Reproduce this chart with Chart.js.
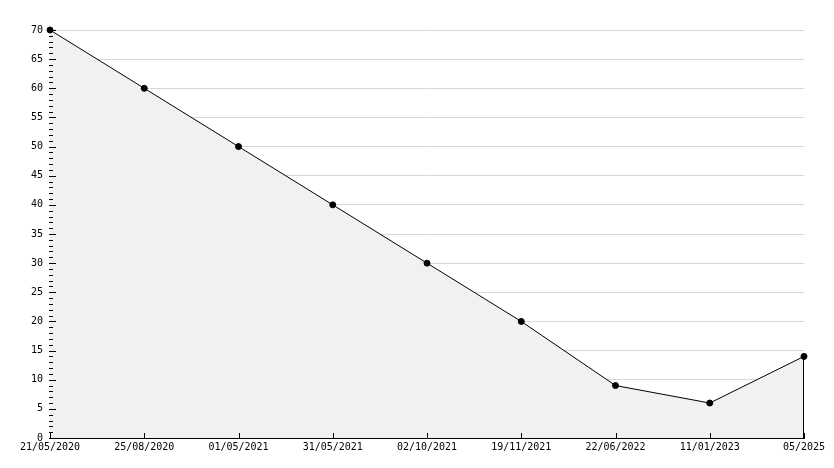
<!DOCTYPE html>
<html>
<head>
<meta charset="utf-8">
<script src="https://cdn.jsdelivr.net/npm/chart.js@4/dist/chart.umd.min.js"></script>
<style>
  html, body { margin: 0; padding: 0; background: #fff; }
  #wrap { width: 834px; height: 468px; position: relative; }
</style>
</head>
<body>
<div id="wrap"><canvas id="chart"></canvas></div>
<script>
const dates = ["21/05/2020", "25/08/2020", "01/05/2021", "31/05/2021", "02/10/2021",
               "19/11/2021", "22/06/2022", "11/01/2023", "05/2025"];
const values = [70, 60, 50, 40, 30, 20, 9, 6, 14];
const yMin = 0, yMax = 70, yStep = 5;

// small tick marks drawn inward from both axes, plus the closing edge of the area
const tickMarks = {
  id: "tickMarks",
  afterDatasetsDraw(chart) {
    const ctx = chart.ctx;
    const x = chart.scales.x, y = chart.scales.y;
    const left = Math.round(chart.chartArea.left);
    const bottom = Math.round(chart.chartArea.bottom);
    ctx.save();
    ctx.strokeStyle = "#000";
    ctx.lineWidth = 1;
    ctx.beginPath();
    for (let v = yMin; v <= yMax; v++) {
      const py = Math.round(y.getPixelForValue(v)) + 0.5;
      const len = v % yStep === 0 ? 6 : 3;
      ctx.moveTo(left - 1, py);
      ctx.lineTo(left + len, py);
    }
    dates.forEach((d, i) => {
      const px = Math.round(x.getPixelForValue(i)) + 0.5;
      ctx.moveTo(px, bottom);
      ctx.lineTo(px, bottom - 5);
    });
    const last = values.length - 1;
    const lx = Math.round(x.getPixelForValue(last)) - 0.5;
    ctx.moveTo(lx, y.getPixelForValue(values[last]));
    ctx.lineTo(lx, bottom);
    ctx.stroke();
    ctx.restore();
  }
};

new Chart(document.getElementById("chart"), {
  type: "line",
  data: {
    labels: dates,
    datasets: [{
      data: values,
      borderColor: "#000",
      borderWidth: 1,
      backgroundColor: "#f1f1f1",
      fill: "origin",
      tension: 0,
      clip: false,
      pointRadius: 3,
      pointBackgroundColor: "#000",
      pointBorderColor: "#000",
      pointBorderWidth: 1
    }]
  },
  options: {
    responsive: true,
    maintainAspectRatio: false,
    animation: false,
    layout: { padding: { top: 30, right: 30, left: 0, bottom: 0 } },
    plugins: {
      legend: { display: false },
      tooltip: { enabled: false }
    },
    scales: {
      x: {
        offset: false,
        grid: { display: false, drawTicks: false },
        border: { color: "#000", width: 1 },
        ticks: {
          color: "#000",
          padding: 3,
          maxRotation: 0,
          autoSkip: false,
          font: { family: "DejaVu Sans Mono", size: 10 }
        },
        afterFit(scale) { scale.height = 30; }
      },
      y: {
        min: yMin,
        max: yMax,
        grid: { color: "#d8d8d8", drawTicks: false },
        border: { color: "#000", width: 1 },
        ticks: {
          stepSize: yStep,
          color: "#000",
          padding: 7,
          font: { family: "DejaVu Sans Mono", size: 10 }
        },
        afterFit(scale) { scale.width = 50; }
      }
    }
  },
  plugins: [tickMarks]
});
</script>
</body>
</html>
